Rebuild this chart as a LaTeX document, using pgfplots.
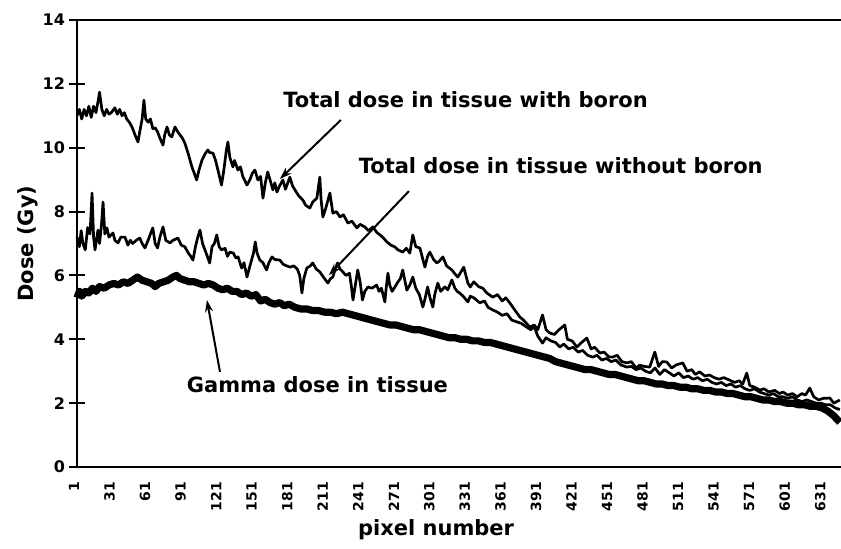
\documentclass[border=0pt]{standalone}
\usepackage{fontspec}
\setmainfont{DejaVu Sans}
\usepackage{pgfplots}
\pgfplotsset{compat=1.18}
\usetikzlibrary{arrows.meta}

\pgfplotstableread{
x y
1 11.0
3 11.2
5 10.9
7 11.2
9 11.0
11 11.3
13 10.95
15 11.3
17 11.1
19 11.5
20 11.74
22 11.2
24 11.0
26 11.2
28 11.05
30 11.1
33 11.25
35 11.05
37 11.2
39 11.0
41 11.1
43 10.9
45.7 10.77
48 10.6
50 10.4
52.5 10.18
54 10.5
56 10.9
57.5 11.49
59 10.9
61 10.8
63 10.9
65 10.6
67 10.62
69 10.5
71 10.3
73.6 10.08
75 10.4
77 10.65
79 10.4
81 10.34
83.7 10.65
86 10.5
88 10.4
90 10.3
92 10.15
95 9.8
98 9.4
100 9.2
102 8.99
104 9.3
106.5 9.61
109 9.8
111.5 9.93
113 9.85
115.8 9.83
118 9.6
120 9.3
123 8.83
125 9.3
127 9.9
128.4 10.18
130 9.7
132.6 9.4
134 9.6
136.9 9.30
139 9.4
141 9.1
144.5 8.83
147 9.0
149 9.2
151.2 9.3
153.7 8.99
156 9.1
158 8.42
160 8.9
162 9.24
164 8.99
166.4 8.68
168 8.9
169.8 8.61
172 8.8
174.8 8.99
177 8.7
180.7 9.08
183 8.8
185 8.68
188 8.5
191.7 8.36
194 8.2
197.6 8.11
200 8.3
203.5 8.42
206 9.08
207 8.4
208.6 7.83
211 8.1
214.5 8.58
217 7.95
220 8.0
223 7.83
226 7.9
229.7 7.64
233 7.7
237.3 7.49
240 7.6
244 7.52
247 7.4
250.8 7.52
254 7.35
256.7 7.27
259 7.2
262.6 7.05
266 6.95
269.4 6.89
272 6.8
276 6.73
279 6.85
282 6.7
284.5 7.27
287 6.9
290.5 6.86
293 6.5
294.7 6.26
297 6.6
298.9 6.73
302 6.5
304.8 6.39
307 6.45
309.9 6.58
313 6.3
317.5 6.17
320 6.05
322.5 5.95
325 6.1
327.5 6.26
331 5.76
333 5.64
336 5.8
340 5.65
343.6 5.6
347 5.45
352 5.32
356 5.4
360 5.2
363 5.3
366.4 5.14
370 4.95
374.8 4.7
378 4.6
383.3 4.38
387 4.45
390 4.3
394 4.76
397 4.3
400 4.2
404 4.15
408 4.3
412.8 4.45
415 4.0
419 3.95
423 3.76
427 3.9
431.4 4.04
435 3.7
438 3.75
442.4 3.57
446 3.6
450 3.45
453 3.44
457 3.5
461 3.3
465 3.26
469 3.3
473 3.1
476 3.19
480 3.15
484.5 3.13
488.8 3.6
492 3.15
495 3.3
498.9 3.29
503 3.1
507 3.2
512.4 3.26
516 3.0
520 3.05
523 2.9
526.7 2.98
531 2.85
535 2.88
539 2.8
543 2.75
547 2.8
552 2.72
556 2.65
560 2.7
563 2.6
566.4 2.94
569 2.55
573 2.5
577.4 2.41
581 2.45
585 2.35
590 2.4
594 2.3
597 2.35
601 2.25
605 2.3
609 2.2
613 2.3
616 2.25
619.6 2.47
623 2.2
627 2.1
631 2.15
636.5 2.16
640 2.0
645 2.1
}\withboron

\pgfplotstableread{
x y
1 7.2
3 6.9
4.5 7.4
6 7.0
8 6.8
10 7.5
12 7.3
13.7 8.58
15 7.2
16.2 6.8
18.7 7.42
20 7.0
21.5 7.5
23 8.3
24.5 7.3
26.3 7.49
28 7.2
31.4 7.33
33 7.1
35.6 7.02
38 7.2
41.5 7.2
44 6.95
46 7.1
48 7.0
51 7.1
54 7.17
56 7.0
58.4 6.86
61 7.1
63 7.3
65 7.49
67 7.0
69 6.86
71 7.2
73.6 7.52
76 7.1
79.5 7.02
82 7.1
86.2 7.17
89 6.95
92 6.9
95 6.7
97 6.6
98.9 6.48
101 6.9
103 7.2
104.8 7.42
107 7.0
109 6.8
111 6.6
113 6.39
115 6.9
117 7.0
119 7.27
121 6.9
123 6.8
126 6.85
128 6.6
130 6.73
133 6.7
135 6.55
137 6.58
140 6.23
142 6.4
144.5 5.95
147 6.3
150 6.7
151.5 7.05
153 6.7
155.4 6.48
158 6.4
161 6.17
163 6.4
165.6 6.58
168 6.5
172.3 6.48
175 6.35
178 6.3
180.7 6.26
184 6.3
187 6.2
189 6.0
190.9 5.45
192.5 5.9
195 6.23
198 6.3
200 6.39
203 6.2
206 6.11
209 5.95
212.8 5.76
215 5.9
217 5.95
219 6.2
221 6.39
223 6.2
225.5 6.11
228 6.0
231 6.07
232.5 5.7
234 5.23
236 5.7
238 6.17
240 5.8
242 5.23
244 5.5
246.6 5.64
250 5.6
254 5.7
256 5.5
258 5.6
260.9 5.17
262 5.6
263.5 6.07
265 5.7
267 5.5
269.4 5.64
272 5.8
274 5.9
276 6.17
278 5.8
279.5 5.54
282 5.7
284.5 5.95
287 5.6
290 5.4
293 5.01
295 5.3
297 5.64
299 5.3
301.4 5.01
303 5.4
305.6 5.76
308 5.5
311.5 5.64
314 5.55
317.5 5.86
320 5.6
322 5.5
324 5.45
327 5.35
331 5.17
333 5.35
336 5.3
341 5.14
345 5.2
348 5.0
352 4.92
356 4.85
360 4.75
364 4.8
368 4.6
372 4.55
376 4.5
380.7 4.38
384 4.3
387 4.4
390 4.1
394 3.88
397 4.05
401 3.95
405 3.9
408.6 3.76
412 3.85
416 3.7
420 3.75
424 3.6
428 3.65
432 3.5
436.5 3.44
440 3.5
444 3.35
448 3.4
452 3.3
456 3.35
460 3.2
465 3.13
469 3.15
473 3.05
477 3.1
481 3.0
485 2.95
489 3.1
493 2.9
497 3.05
501 2.95
505 2.85
509 2.95
513 2.8
517 2.85
521 2.75
525 2.8
529 2.7
533 2.75
537 2.65
541 2.6
545 2.65
549 2.55
553 2.6
557 2.5
561 2.55
565 2.45
569 2.4
573 2.45
577 2.35
581 2.3
585 2.25
589 2.3
593 2.2
597 2.2
601 2.15
605 2.2
609 2.1
613 2.05
617 2.1
621 2.05
625 2.0
629 2.0
633 1.95
637 1.95
641 1.85
645 1.8
}\withoutboron

\pgfplotstableread{
x y
1 5.3
3 5.5
5 5.35
8 5.5
11 5.45
14 5.6
17 5.5
20 5.65
24 5.6
28 5.7
32 5.75
36 5.7
40 5.8
44 5.75
48 5.85
52 5.95
56 5.85
60 5.8
64 5.75
67 5.65
70 5.75
74 5.8
78 5.85
82 5.95
85 6.0
88 5.9
92 5.85
96 5.8
100 5.8
104 5.75
108 5.7
112 5.75
116 5.7
120 5.6
124 5.55
128 5.6
132 5.5
136 5.5
140 5.4
144 5.45
148 5.35
152 5.4
156 5.2
160 5.25
164 5.15
168 5.1
172 5.15
176 5.05
180 5.1
185 5.0
190 4.95
195 4.95
200 4.9
205 4.9
210 4.85
215 4.85
220 4.8
225 4.85
230 4.8
235 4.75
240 4.7
245 4.65
250 4.6
255 4.55
260 4.5
265 4.45
270 4.45
275 4.4
280 4.35
285 4.3
290 4.3
295 4.25
300 4.2
305 4.15
310 4.1
315 4.05
320 4.05
325 4.0
330 4.0
335 3.95
340 3.95
345 3.9
350 3.9
355 3.85
360 3.8
365 3.75
370 3.7
375 3.65
380 3.6
385 3.55
390 3.5
395 3.45
400 3.4
405 3.3
410 3.25
415 3.2
420 3.15
425 3.1
430 3.05
435 3.05
440 3.0
445 2.95
450 2.9
455 2.9
460 2.85
465 2.8
470 2.75
475 2.7
480 2.7
485 2.65
490 2.6
495 2.6
500 2.55
505 2.55
510 2.5
515 2.5
520 2.45
525 2.45
530 2.4
535 2.4
540 2.35
545 2.35
550 2.3
555 2.3
560 2.25
565 2.2
570 2.2
575 2.15
580 2.1
585 2.1
590 2.05
595 2.05
600 2.0
605 2.0
610 1.95
615 1.95
620 1.9
625 1.9
630 1.85
635 1.75
640 1.6
645 1.4
}\gammadose

\begin{document}
\begin{tikzpicture}
\begin{axis}[
  scale only axis,
  width=382pt, height=223.5pt,
  xmin=1, xmax=646, ymin=0, ymax=14,
  clip=false,
  axis lines=left,
  axis line style={-, line width=1.3pt},
  xtick={1,31,...,631},
  ytick={0,2,...,14},
  x tick style={draw=none},
  y tick style={line width=1pt, black},
  tick align=center,
  major tick length=8pt,
  /pgf/number format/assume math mode=true,
  xticklabel style={font=\bfseries\fontsize{7}{8}\selectfont, rotate=90, anchor=east, yshift=1.5pt},
  yticklabel style={font=\bfseries\fontsize{8}{9}\selectfont, xshift=1.5pt},
  every axis x label/.style={at={(axis description cs:0.47,0)}, anchor=center, yshift=-31.5pt},
  every axis y label/.style={at={(axis description cs:0,0.5)}, xshift=-24.5pt, rotate=90, anchor=center},
  label style={font=\bfseries\fontsize{10.5}{12}\selectfont},
  xlabel={pixel number},
  ylabel={Dose (Gy)},
]
\addplot[black, line width=3.6pt, line join=round] table {\gammadose};
\addplot[black, line width=1.35pt, line join=round] table {\withoutboron};
\addplot[black, line width=1.35pt, line join=round] table {\withboron};

\draw[line width=1.1pt] (rel axis cs:0,1) -- (rel axis cs:1,1);

\node[font=\bfseries\fontsize{10.5}{12}\selectfont] at (axis cs:329,11.49) {Total dose in tissue with boron};
\node[font=\bfseries\fontsize{10.5}{12}\selectfont] at (axis cs:409.4,9.43) {Total dose in tissue without boron};
\node[font=\bfseries\fontsize{10.5}{12}\selectfont] at (axis cs:204,2.57) {Gamma dose in tissue};

\draw[line width=1pt, -{Stealth[length=6pt,width=4pt]}] (axis cs:223.8,10.87) -- (axis cs:172.3,9.02);
\draw[line width=1pt, -{Stealth[length=6pt,width=4pt]}] (axis cs:281.2,8.64) -- (axis cs:213.7,6.01);
\draw[line width=1pt, -{Stealth[length=6pt,width=4pt]}] (axis cs:121.7,2.98) -- (axis cs:110.7,5.23);

\coordinate (sw) at (rel axis cs:0,0);
\coordinate (ne) at (rel axis cs:1,1);
\end{axis}
\pgfresetboundingbox
\path[use as bounding box] ([xshift=-38.5pt,yshift=-40.5pt]sw) rectangle ([yshift=10pt]ne);
\end{tikzpicture}
\end{document}
